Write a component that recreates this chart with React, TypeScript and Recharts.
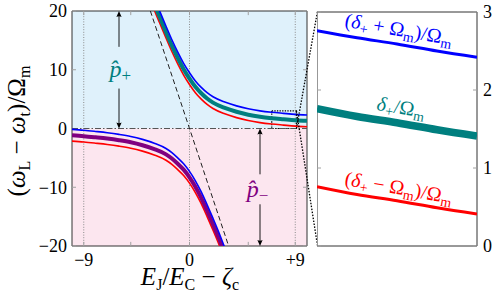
import React from 'react';
import {
  ComposedChart,
  LineChart,
  Line,
  XAxis,
  YAxis,
  ReferenceArea,
  ReferenceLine,
  ReferenceDot,
  Label,
} from 'recharts';

const serif = '"Liberation Serif", "DejaVu Serif", serif';

const BLUE = '#0000ff';
const RED = '#ff0000';
const TEAL = '#007f7f';
const PURPLE = '#800080';

// upper branch delta_+ and its sidebands
const upperX = [-3.4, -3, -2.5, -2, -1.5, -1, -0.5, 0, 0.5, 1, 1.5, 2, 3, 4, 5, 6, 7, 8, 9, 10];
const upperMid = [23.5, 21.2, 18.8, 16.4, 14.1, 12.0, 10.1, 8.5, 7.1, 6.0, 5.1, 4.4, 3.5, 2.85, 2.35, 2.0, 1.76, 1.58, 1.41, 1.3];
const upperPlus = [24.5, 22.2, 19.8, 17.4, 15.1, 13.0, 11.1, 9.5, 8.1, 7.0, 6.1, 5.4, 4.5, 3.85, 3.35, 3.0, 2.76, 2.58, 2.41, 2.3];
const upperMinus = [22.5, 20.2, 17.8, 15.4, 13.1, 11.0, 9.1, 7.5, 6.1, 5.0, 4.1, 3.4, 2.5, 1.85, 1.35, 1.0, 0.76, 0.58, 0.41, 0.3];

// lower branch delta_- and its sidebands
const lowerX = [-10, -9, -8, -7, -6, -5, -4, -3, -2, -1.5, -1, -0.5, 0, 0.5, 1, 1.5, 2, 2.5, 3, 3.4];
const lowerMid = [-1.15, -1.3, -1.5, -1.72, -2.0, -2.35, -2.85, -3.5, -4.4, -5.1, -6.0, -7.0, -8.3, -9.9, -11.8, -14.0, -16.3, -18.7, -21.3, -23.4];
const lowerPlus = [-0.15, -0.3, -0.5, -0.72, -1.0, -1.35, -1.85, -2.5, -3.4, -4.1, -5.0, -6.0, -7.3, -8.9, -10.8, -13.0, -15.3, -17.7, -20.3, -22.4];
const lowerMinus = [-2.15, -2.3, -2.5, -2.72, -3.0, -3.35, -3.85, -4.5, -5.4, -6.1, -7.0, -8.0, -9.3, -10.9, -12.8, -15.0, -17.3, -19.7, -22.3, -24.4];

// bare (uncoupled) line, dashed
const bareX = [-3.33, 3.33];
const bareY = [20, -20];

// zoomed panel, x in [7, 9], y in [0, 3]
const zoomX = [7, 7.5, 8, 8.5, 9];
const zoomPlus = [2.76, 2.67, 2.59, 2.5, 2.42];
const zoomMid = [1.76, 1.66, 1.58, 1.49, 1.41];
const zoomMinus = [0.76, 0.66, 0.58, 0.49, 0.41];

const xTicks = [-9, 0, 9];
const xMinorTicks = [-9, -5, 0, 5, 9];
const yTicks = [-20, -10, 0, 10, 20];
const zoomTicks = [0, 1, 2, 3];

const rows = (xs: number[], ys: number[]) => xs.map((x, i) => ({ x, y: ys[i] }));

const fmtX = (v: number) => (v < 0 ? `\u2212${Math.abs(v)}` : v > 0 ? `+${v}` : '0');
const fmtY = (v: number) => (v < 0 ? `\u2212${Math.abs(v)}` : `${v}`);

const tickStyle = { fill: '#000', fontSize: 18, fontFamily: serif };

const Sub = ({ t, size = 16, d = 5 }: { t: string; size?: number; d?: number }) => (
  <tspan dy={d} fontSize={size} fontStyle="normal">
    {t}
  </tspan>
);

const XTitle = () => (
  <text x={190} y={285} textAnchor="middle" fontFamily={serif} fontSize={25} fill="#000">
    <tspan fontStyle="italic">E</tspan>
    <Sub t="J" />
    <tspan dy={-5}>/</tspan>
    <tspan fontStyle="italic">E</tspan>
    <Sub t="C" />
    <tspan dy={-5}> {'\u2212'} </tspan>
    <tspan fontStyle="italic">ζ</tspan>
    <Sub t="c" />
  </text>
);

const YTitle = () => (
  <text
    x={0}
    y={0}
    transform="translate(25 131) rotate(-90)"
    textAnchor="middle"
    fontFamily={serif}
    fontSize={25}
    fill="#000"
  >
    <tspan>(</tspan>
    <tspan fontStyle="italic">ω</tspan>
    <Sub t="L" />
    <tspan dy={-5}> {'\u2212'} </tspan>
    <tspan fontStyle="italic">ω</tspan>
    <Sub t="t" />
    <tspan dy={-5}>)/Ω</tspan>
    <Sub t="m" />
  </text>
);

const arrowHead = (up: boolean) => (p: any) => {
  const { cx, cy } = p;
  const s = up ? 1 : -1;
  return (
    <path
      d={`M${cx},${cy} L${cx - 2.6},${cy + s * 6} Q${cx},${cy + s * 4.5} ${cx + 2.6},${cy + s * 6} Z`}
      fill="#000"
    />
  );
};

const hatLabel = (sign: string, color: string) => (p: any) => (
  <text x={p.cx} y={p.cy + 7} textAnchor="middle" fontFamily={serif} fontSize={24} fill={color}>
    <tspan fontStyle="italic">{'p\u0302'}</tspan>
    <tspan dy={4} fontSize={17}>
      {sign}
    </tspan>
  </text>
);

const zoomLabel = (parts: 'plus' | 'mid' | 'minus', color: string) => (p: any) => (
  <text
    x={0}
    y={6}
    transform={`translate(${p.cx} ${p.cy}) rotate(10)`}
    textAnchor="middle"
    fontFamily={serif}
    fontSize={20}
    fill={color}
  >
    {parts === 'mid' ? (
      <>
        <tspan fontStyle="italic">δ</tspan>
        <Sub t="+" size={14} d={4} />
        <tspan dy={-4}>/Ω</tspan>
        <Sub t="m" size={14} d={4} />
      </>
    ) : (
      <>
        <tspan>(</tspan>
        <tspan fontStyle="italic">δ</tspan>
        <Sub t="+" size={14} d={4} />
        <tspan dy={-4}>{parts === 'plus' ? ' + Ω' : ' \u2212 Ω'}</tspan>
        <Sub t="m" size={14} d={4} />
        <tspan dy={-4}>)/Ω</tspan>
        <Sub t="m" size={14} d={4} />
      </>
    )}
  </text>
);

export default function App() {
  const tickGray = '#a0a0a0';
  const frame = '#333';
  return (
    <div style={{ position: 'absolute', left: 0, top: 0, width: 499, height: 300, background: '#fff' }}>
      <ComposedChart
        width={320}
        height={300}
        margin={{ top: 11, right: 13, bottom: 0, left: 0 }}
        style={{ position: 'absolute', left: 0, top: 0 }}
      >
        <XAxis
          type="number"
          dataKey="x"
          domain={[-10, 10]}
          ticks={xTicks}
          allowDataOverflow
          tickFormatter={fmtX}
          axisLine={false}
          tickLine={false}
          tickSize={0}
          tickMargin={7}
          height={54}
          tick={tickStyle}
        >
          <Label content={XTitle} />
        </XAxis>
        <YAxis
          type="number"
          domain={[-20, 20]}
          ticks={yTicks}
          allowDataOverflow
          tickFormatter={fmtY}
          axisLine={false}
          tickLine={false}
          tickSize={0}
          tickMargin={5}
          width={72}
          tick={tickStyle}
        >
          <Label content={YTitle} />
        </YAxis>

        <ReferenceArea x1={-10} x2={10} y1={0} y2={20} fill="#dff1fb" fillOpacity={1} stroke="none" />
        <ReferenceArea x1={-10} x2={10} y1={-20} y2={0} fill="#fce6ef" fillOpacity={1} stroke="none" />

        {xTicks.map((t) => (
          <ReferenceLine key={`g${t}`} x={t} stroke="#8a8a8a" strokeDasharray="1 1.6" strokeWidth={1} />
        ))}
        {xMinorTicks.map((t) => (
          <ReferenceLine key={`bt${t}`} segment={[{ x: t, y: -20 }, { x: t, y: -19.3 }]} stroke={tickGray} />
        ))}
        {xMinorTicks.map((t) => (
          <ReferenceLine key={`tt${t}`} segment={[{ x: t, y: 20 }, { x: t, y: 19.3 }]} stroke={tickGray} />
        ))}
        {yTicks.map((t) => (
          <ReferenceLine key={`lt${t}`} segment={[{ x: -10, y: t }, { x: -9.66, y: t }]} stroke={tickGray} />
        ))}
        {yTicks.map((t) => (
          <ReferenceLine key={`rt${t}`} segment={[{ x: 10, y: t }, { x: 9.66, y: t }]} stroke={tickGray} />
        ))}

        <ReferenceLine y={0} stroke="#555" strokeDasharray="6 2 1.5 2" strokeWidth={1} />
        <Line
          data={rows(bareX, bareY)}
          dataKey="y"
          type="linear"
          stroke="#222"
          strokeWidth={1}
          strokeDasharray="5 3"
          dot={false}
          isAnimationActive={false}
        />

        <Line data={rows(upperX, upperMinus)} dataKey="y" type="monotone" stroke={RED} strokeWidth={1.6} dot={false} isAnimationActive={false} />
        <Line data={rows(upperX, upperMid)} dataKey="y" type="monotone" stroke={TEAL} strokeWidth={4} dot={false} isAnimationActive={false} />
        <Line data={rows(upperX, upperPlus)} dataKey="y" type="monotone" stroke={BLUE} strokeWidth={1.6} dot={false} isAnimationActive={false} />
        <Line data={rows(lowerX, lowerMinus)} dataKey="y" type="monotone" stroke={RED} strokeWidth={1.6} dot={false} isAnimationActive={false} />
        <Line data={rows(lowerX, lowerMid)} dataKey="y" type="monotone" stroke={PURPLE} strokeWidth={4} dot={false} isAnimationActive={false} />
        <Line data={rows(lowerX, lowerPlus)} dataKey="y" type="monotone" stroke={BLUE} strokeWidth={1.6} dot={false} isAnimationActive={false} />

        {/* p+ and p- arrows */}
        <ReferenceLine segment={[{ x: -6, y: 19.2 }, { x: -6, y: 13.9 }]} stroke="#000" strokeWidth={0.9} />
        <ReferenceLine segment={[{ x: -6, y: 6.8 }, { x: -6, y: 0.8 }]} stroke="#000" strokeWidth={0.9} />
        <ReferenceLine segment={[{ x: 6, y: -0.8 }, { x: 6, y: -7.8 }]} stroke="#000" strokeWidth={0.9} />
        <ReferenceLine segment={[{ x: 6, y: -12.9 }, { x: 6, y: -19.2 }]} stroke="#000" strokeWidth={0.9} />
        <ReferenceDot x={-6} y={20} ifOverflow="visible" shape={arrowHead(true)} />
        <ReferenceDot x={-6} y={0} ifOverflow="visible" shape={arrowHead(false)} />
        <ReferenceDot x={6} y={0} ifOverflow="visible" shape={arrowHead(true)} />
        <ReferenceDot x={6} y={-20} ifOverflow="visible" shape={arrowHead(false)} />
        <ReferenceDot x={-5.9} y={10} ifOverflow="visible" shape={hatLabel('+', TEAL)} />
        <ReferenceDot x={5.8} y={-10.4} ifOverflow="visible" shape={hatLabel('\u2212', PURPLE)} />

        {/* zoom box and connectors */}
        <ReferenceArea x1={7} x2={9.1} y1={0} y2={3} fill="none" stroke="#000" strokeDasharray="1.3 1.3" strokeWidth={1.2} />
        <ReferenceLine ifOverflow="visible" segment={[{ x: 9.1, y: 3 }, { x: 10.9, y: -20 }]} stroke="#000" strokeDasharray="1.5 1.5" strokeWidth={1.3} />
        <ReferenceLine ifOverflow="visible" segment={[{ x: 9.1, y: 0 }, { x: 10.9, y: 20 }]} stroke="#000" strokeDasharray="1.5 1.5" strokeWidth={1.3} />

        <ReferenceArea x1={-10} x2={10} y1={-20} y2={20} fill="none" stroke={frame} strokeWidth={1} />
      </ComposedChart>

      <LineChart
        width={182}
        height={300}
        margin={{ top: 12, right: 0, bottom: 54, left: 0 }}
        style={{ position: 'absolute', left: 317, top: 0 }}
      >
        <XAxis type="number" dataKey="x" domain={[7, 9]} allowDataOverflow hide />
        <YAxis
          type="number"
          orientation="right"
          domain={[0, 3]}
          ticks={zoomTicks}
          allowDataOverflow
          axisLine={false}
          tickLine={false}
          tickSize={0}
          tickMargin={6}
          width={22}
          tick={tickStyle}
        />
        <ReferenceArea x1={7} x2={9} y1={0} y2={3} fill="#fff" fillOpacity={1} stroke="none" />
        {zoomTicks.map((t) => (
          <ReferenceLine key={`zl${t}`} segment={[{ x: 7, y: t }, { x: 7.05, y: t }]} stroke={tickGray} />
        ))}
        {zoomTicks.map((t) => (
          <ReferenceLine key={`zr${t}`} segment={[{ x: 9, y: t }, { x: 8.95, y: t }]} stroke={tickGray} />
        ))}
        <Line data={rows(zoomX, zoomPlus)} dataKey="y" type="monotone" stroke={BLUE} strokeWidth={3} dot={false} isAnimationActive={false} />
        <Line data={rows(zoomX, zoomMid)} dataKey="y" type="monotone" stroke={TEAL} strokeWidth={7.5} dot={false} isAnimationActive={false} />
        <Line data={rows(zoomX, zoomMinus)} dataKey="y" type="monotone" stroke={RED} strokeWidth={3} dot={false} isAnimationActive={false} />
        <ReferenceDot x={8.02} y={2.77} ifOverflow="visible" shape={zoomLabel('plus', BLUE)} />
        <ReferenceDot x={8.05} y={1.77} ifOverflow="visible" shape={zoomLabel('mid', TEAL)} />
        <ReferenceDot x={8.02} y={0.74} ifOverflow="visible" shape={zoomLabel('minus', RED)} />
        <ReferenceArea x1={7} x2={9} y1={0} y2={3} fill="none" stroke={frame} strokeWidth={1} />
      </LineChart>
    </div>
  );
}
